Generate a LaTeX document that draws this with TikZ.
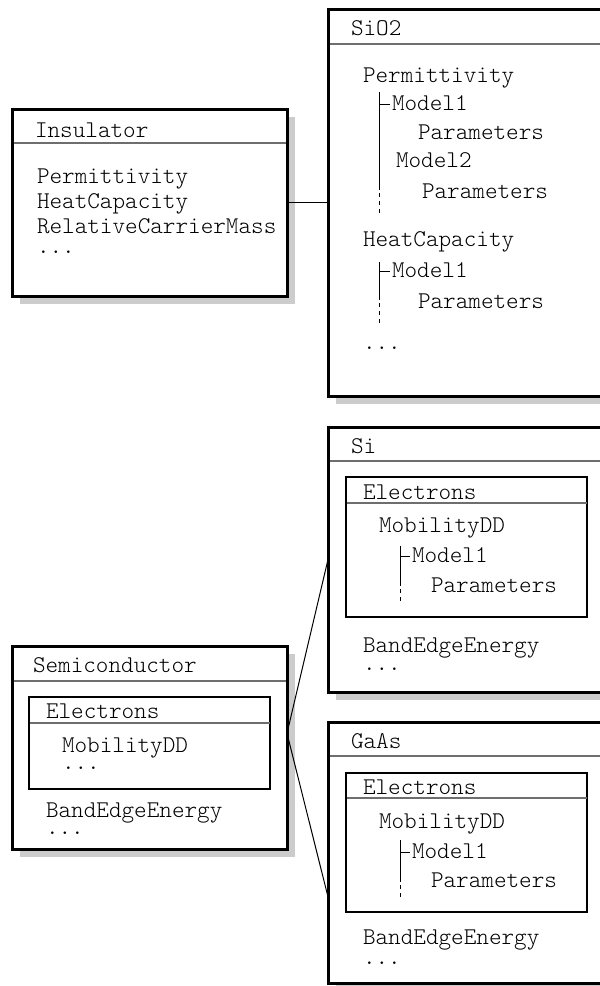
\documentclass[tikz,border=0pt]{standalone}
\usepackage{fontspec}
\newfontfamily\courlight{lmmonolt10-regular.otf}
\usetikzlibrary{shadows,calc}
\definecolor{shadowgray}{RGB}{204,204,204}
\definecolor{hdrgray}{RGB}{110,110,110}
\tikzset{
  obox/.style={draw, line width=3pt, fill=white, inner sep=0pt, outer sep=0pt, anchor=north west,
    drop shadow={shadow xshift=8pt, shadow yshift=-8pt, opacity=1, fill=shadowgray}},
  ibox/.style={draw, line width=1.3pt, fill=white, inner sep=0pt, outer sep=0pt, anchor=north west},
  hdr/.style={draw=hdrgray, line width=1.1pt},
  txt/.style={anchor=base west, inner sep=0pt, outer sep=0pt, align=left, font=\courlight\fontsize{24}{24}\selectfont},
  treeline/.style={line width=1pt},
  treedash/.style={line width=1pt, dash pattern=on 4pt off 4pt},
  conn/.style={line width=1pt}
}
\begin{document}
\begin{tikzpicture}[x=1pt,y=-1pt]
\useasboundingbox (0,0) rectangle (600,986);
\clip (0,0) rectangle (600,986);

% ---------------- boxes ----------------
\node[obox, minimum width=275pt, minimum height=187pt] (ins) at (12,109) {};
\node[obox, minimum width=292pt, minimum height=387pt] (sio2) at (328,9) {};
\node[obox, minimum width=292pt, minimum height=265pt] (si) at (328,427) {};
\node[obox, minimum width=292pt, minimum height=261pt] (gaas) at (328,722) {};
\node[obox, minimum width=275pt, minimum height=203pt] (semi) at (12,646) {};

% header lines
\draw[hdr] (13.5,143) -- (285.5,143);
\draw[hdr] (329.5,44) -- (600,44);
\draw[hdr] (329.5,461) -- (600,461);
\draw[hdr] (329.5,756) -- (600,756);
\draw[hdr] (13.5,681) -- (285.5,681);

% inner boxes
\node[ibox, minimum width=241pt, minimum height=140pt] (siel) at (346,477) {};
\node[ibox, minimum width=241pt, minimum height=139pt] (gaasel) at (346,773) {};
\node[ibox, minimum width=241pt, minimum height=92pt] (semiel) at (29,697) {};
\draw[hdr] (346.5,503) -- (586.5,503);
\draw[hdr] (346.5,798) -- (586.5,798);
\draw[hdr] (29.5,723) -- (269.5,723);

% ---------------- Insulator ----------------
% multi-line nodes: base anchor = baseline of the last line
\node[txt] (insT) at (35,137) {Insulator};
\node[txt] (insL) at (37,253) {Permittivity\\[1pt]HeatCapacity\\[1pt]RelativeCarrierMass\\[-4pt]...};

% ---------------- SiO2 ----------------
\node[txt] (sT) at (351,35) {SiO2};
\node[txt] (sA) at (363,82) {Permittivity};
\node[txt] (sA1) at (392,110) {Model1};
\node[txt] (sA1p) at (418,139) {Parameters};
\node[txt] (sA2) at (396,167) {Model2};
\node[txt] (sA2p) at (422,198) {Parameters};
\node[txt] (sB) at (363,246) {HeatCapacity};
\node[txt] (sB1) at (392,277) {Model1};
\node[txt] (sB1p) at (418,308) {Parameters};
\node[txt] (sC) at (363,349) {...};
\draw[treeline] (379,92) -- (379,190);
\draw[treeline] (379,104) -- (390,104);
\draw[treedash] (379,193) -- (379,214);
\draw[treeline] (379,262) -- (379,300);
\draw[treeline] (379,271) -- (390,271);
\draw[treedash] (379,303) -- (379,324);

% ---------------- Si ----------------
\node[txt] (siT) at (351,453) {Si};
\node[txt] (siE) at (363,499) {Electrons};
\node[txt] (siM) at (379,532) {MobilityDD};
\node[txt] (siM1) at (412,562) {Model1};
\node[txt] (siP) at (431,592) {Parameters};
\node[txt] (siB) at (363,670) {BandEdgeEnergy\\[-6pt]...};
\draw[treeline] (400,546) -- (400,586);
\draw[treeline] (400,556) -- (410,556);
\draw[treedash] (400,589) -- (400,604);

% ---------------- GaAs ----------------
\node[txt] (gT) at (351,748) {GaAs};
\node[txt] (gE) at (363,794) {Electrons};
\node[txt] (gM) at (379,828) {MobilityDD};
\node[txt] (gM1) at (412,858) {Model1};
\node[txt] (gP) at (431,887) {Parameters};
\node[txt] (gB) at (363,964) {BandEdgeEnergy\\[-4pt]...};
\draw[treeline] (400,840) -- (400,882);
\draw[treeline] (400,852) -- (410,852);
\draw[treedash] (400,885) -- (400,900);

% ---------------- Semiconductor ----------------
\node[txt] (smT) at (33,672) {Semiconductor};
\node[txt] (smE) at (46,718) {Electrons};
\node[txt] (smM) at (62,769) {MobilityDD\\[-7pt]...};
\node[txt] (smB) at (46,834) {BandEdgeEnergy\\[-7pt]...};

% ---------------- connectors ----------------
\path (semi.north east) -- (semi.south east) coordinate[pos=0.43] (sj);
\path (gaas.north west) -- (gaas.south west) coordinate[pos=0.67] (gj);
\draw[conn] (ins.east) -- (sio2.west);
\draw[conn] (sj) -- (si.west);
\draw[conn] (sj) -- (gj);
\end{tikzpicture}
\end{document}
